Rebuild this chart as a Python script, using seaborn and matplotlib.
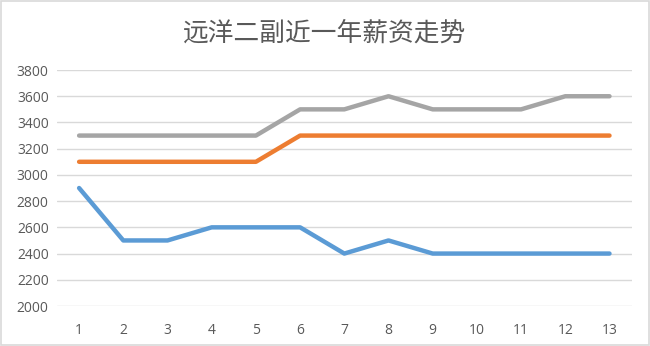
import matplotlib
matplotlib.use("Agg")
import matplotlib.pyplot as plt
import seaborn as sns
import pandas as pd

months = list(range(1, 14))
blue_vals = [2900, 2500, 2500, 2600, 2600, 2600, 2400, 2500, 2400, 2400, 2400, 2400, 2400]
orange_vals = [3100, 3100, 3100, 3100, 3100, 3300, 3300, 3300, 3300, 3300, 3300, 3300, 3300]
gray_vals = [3300, 3300, 3300, 3300, 3300, 3500, 3500, 3600, 3500, 3500, 3500, 3600, 3600]
series_names = ["系列1", "系列2", "系列3"]
y_ticks = [2000, 2200, 2400, 2600, 2800, 3000, 3200, 3400, 3600, 3800]
title = "远洋二副近一年薪资走势"

df = pd.concat([
    pd.DataFrame({"月": months, "薪资": v, "系列": n})
    for n, v in zip(series_names, [blue_vals, orange_vals, gray_vals])
])

sns.set_theme(style="white")
plt.rcParams['font.family'] = ['Open Sans', 'Noto Sans CJK SC', 'DejaVu Sans']

fig = plt.figure(figsize=(6.5, 3.46), dpi=100)
ax = fig.add_axes([0.0877, 0.1156, 0.884, 0.682])
palette = {"系列1": "#5B9BD5", "系列2": "#ED7D31", "系列3": "#A5A5A5"}
sns.lineplot(data=df, x="月", y="薪资", hue="系列", palette=palette,
             linewidth=3.2, ax=ax, legend=False, zorder=3)

ax.set_xlim(0.5, 13.5)
ax.set_ylim(2000, 3800)
ax.set_yticks(y_ticks)
ax.set_xticks(months)
ax.set_xticklabels([str(m) for m in months])
ax.grid(axis="y", color="#D9D9D9", linewidth=1)
ax.set_axisbelow(True)
for s in ax.spines.values():
    s.set_visible(False)
ax.tick_params(axis="both", length=0, labelsize=10, labelcolor="#595959")
ax.tick_params(axis="x", pad=12)
ax.tick_params(axis="y", pad=6)
ax.set_xlabel("")
ax.set_ylabel("")

fig.text(0.5, 0.903, title, ha="center", va="center", fontsize=18.5,
         color="#595959", family=['Noto Sans CJK SC', 'DejaVu Sans'])

border = plt.Rectangle((0.002, 0.003), 0.996, 0.994, transform=fig.transFigure,
                       fill=False, edgecolor="#D9D9D9", linewidth=1.2)
fig.patches.append(border)

fig.savefig("out.png", dpi=100)
